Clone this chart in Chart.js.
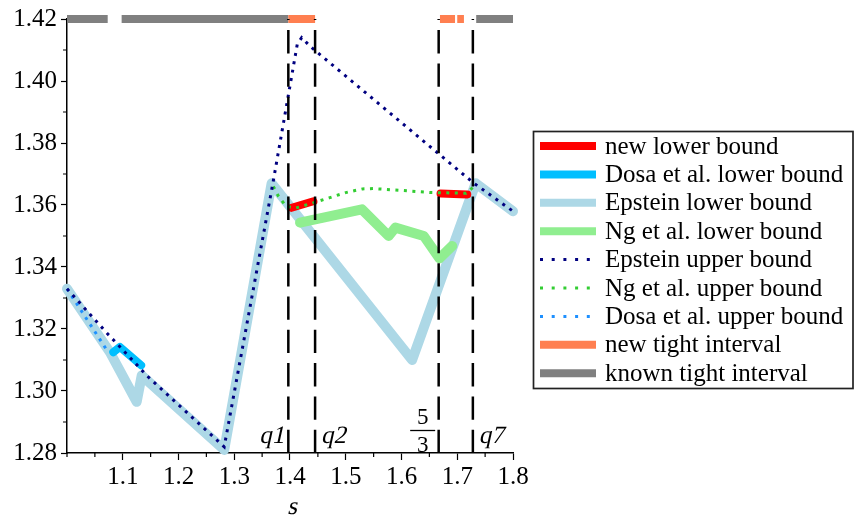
<!DOCTYPE html>
<html>
<head>
<meta charset="utf-8">
<script src="https://cdn.jsdelivr.net/npm/chart.js@4.4.1/dist/chart.umd.min.js"></script>
<style>
  html, body { margin: 0; padding: 0; background: #fff; }
  #wrap { position: relative; width: 856px; height: 518px; }
  #chart { position: absolute; left: 0; top: 0; }
</style>
</head>
<body>
<div id="wrap">
  <canvas id="chart" width="856" height="518"></canvas>
</div>
<script>
// Axis ticks
const xTicks = [1.1, 1.2, 1.3, 1.4, 1.5, 1.6, 1.7, 1.8];
const xMinorTicks = [1.0, 1.05, 1.15, 1.25, 1.35, 1.45, 1.55, 1.65, 1.75];
const yTicks = [1.28, 1.30, 1.32, 1.34, 1.36, 1.38, 1.40, 1.42];
const yMinorTicks = [1.29, 1.31, 1.33, 1.35, 1.37, 1.39, 1.41];
const xTitle = 's';

// Lower bounds (null = break in the line)
const newLowerX = [1.403, 1.442, 1.55, 1.670, 1.718];
const newLowerY = [1.3591, 1.3612, null, 1.3637, 1.3634];
const dosaLowerX = [1.083, 1.095, 1.133];
const dosaLowerY = [1.3125, 1.3142, 1.3083];
const epsteinLowerX = [1.0, 1.077, 1.125, 1.134, 1.282, 1.367, 1.619, 1.733, 1.8];
const epsteinLowerY = [1.333, 1.3125, 1.2965, 1.305, 1.281, 1.367, 1.31, 1.367, 1.358];
const ngLowerX = [1.418, 1.529, 1.577, 1.589, 1.640, 1.668, 1.691];
const ngLowerY = [1.3543, 1.3586, 1.350, 1.3527, 1.350, 1.3428, 1.3468];

// Upper bounds
const epsteinUpperX = [1.0, 1.07, 1.10, 1.143, 1.282, 1.370, 1.413, 1.421, 1.436, 1.730, 1.8];
const epsteinUpperY = [1.333, 1.319, 1.3133, 1.305, 1.282, 1.3677, 1.4118, 1.414, 1.4112, 1.367, 1.358];
const ngUpperX = [1.370, 1.379, 1.393, 1.41, 1.44, 1.47, 1.50, 1.53, 1.55, 1.60, 1.655, 1.716, 1.730];
const ngUpperY = [1.366, 1.3629, 1.3596, 1.359, 1.3606, 1.3623, 1.364, 1.3652, 1.3653, 1.3647, 1.364, 1.3638, 1.366];
const dosaUpperX = [1.0, 1.074];
const dosaUpperY = [1.333, 1.3125];

// Tight intervals (drawn at the top, y = 1.42)
const newTightStart = [1.397, 1.669, 1.700];
const newTightEnd = [1.445, 1.696, 1.712];
const knownTightStart = [1.0, 1.098, 1.734];
const knownTightEnd = [1.073, 1.397, 1.8];
const tightLevel = 1.42;

// Special s values (vertical dashed lines)
const specialX = [1.397, 1.445, 5 / 3, 1.728];
const specialLabels = ['q1', 'q2', '5/3', 'q7'];

const serif = '"Liberation Serif"';
Chart.defaults.font.family = serif;

function toPoints(xs, ys) {
    return xs.map((x, i) => ({ x: x, y: ys[i] }));
}

function intervalPoints(starts, ends) {
    const pts = [];
    starts.forEach((s, i) => {
        if (i > 0) pts.push({ x: (ends[i - 1] + s) / 2, y: null });
        pts.push({ x: s, y: tightLevel });
        pts.push({ x: ends[i], y: tightLevel });
    });
    return pts;
}

function solid(label, data, color, width, order) {
    return {
        label: label, data: data, borderColor: color, borderWidth: width,
        borderCapStyle: 'round', borderJoinStyle: 'round',
        pointRadius: 0, spanGaps: false, clip: false, order: order
    };
}

function dotted(label, data, color, order) {
    return {
        label: label, data: data, borderColor: color, borderWidth: 3,
        borderDash: [3, 5.5], borderCapStyle: 'butt',
        pointRadius: 0, clip: false, order: order
    };
}

function band(label, data, color, order) {
    return {
        label: label, data: data, borderColor: color, borderWidth: 8,
        borderCapStyle: 'butt', pointRadius: 0, spanGaps: false, clip: false, order: order
    };
}

const datasets = [
    solid('new lower bound', toPoints(newLowerX, newLowerY), '#ff0000', 8, 5),
    solid('Dosa et al. lower bound', toPoints(dosaLowerX, dosaLowerY), '#00bfff', 8, 6),
    solid('Epstein lower bound', toPoints(epsteinLowerX, epsteinLowerY), '#add8e6', 10, 8),
    solid('Ng et al. lower bound', toPoints(ngLowerX, ngLowerY), '#90ee90', 10, 7),
    dotted('Epstein upper bound', toPoints(epsteinUpperX, epsteinUpperY), '#000080', 2),
    dotted('Ng et al. upper bound', toPoints(ngUpperX, ngUpperY), '#32cd32', 3),
    dotted('Dosa et al. upper bound', toPoints(dosaUpperX, dosaUpperY), '#1e90ff', 4),
    band('new tight interval', intervalPoints(newTightStart, newTightEnd), '#ff7f50', 9),
    band('known tight interval', intervalPoints(knownTightStart, knownTightEnd), '#808080', 10)
];

// vertical dashed lines, no legend entry
specialX.forEach(x => {
    datasets.push({
        data: [{ x: x, y: 1.28 }, { x: x, y: 1.42 }],
        borderColor: '#000', borderWidth: 2.5, borderDash: [23.3, 10],
        pointRadius: 0, clip: false, order: 1
    });
});

// slanted text from the upright face (no italic font lookup)
function slantText(ctx, text, x, y) {
    ctx.save();
    ctx.translate(x, y);
    ctx.transform(1, 0, -0.22, 1, 0, 0);
    ctx.fillText(text, 0, 0);
    ctx.restore();
}

// minor ticks on both axes
const minorTicks = {
    id: 'minorTicks',
    afterDraw(chart) {
        const ctx = chart.ctx, xs = chart.scales.x, ys = chart.scales.y;
        const a = chart.chartArea;
        ctx.save();
        ctx.strokeStyle = '#000';
        ctx.lineWidth = 1.2;
        ctx.beginPath();
        xMinorTicks.forEach(v => {
            const px = xs.getPixelForValue(v);
            ctx.moveTo(px, a.bottom);
            ctx.lineTo(px, a.bottom + 4);
        });
        yMinorTicks.forEach(v => {
            const py = ys.getPixelForValue(v);
            ctx.moveTo(a.left, py);
            ctx.lineTo(a.left - 4, py);
        });
        ctx.stroke();
        ctx.restore();
    }
};

// labels next to the dashed lines and the x title
const specialText = {
    id: 'specialText',
    afterDraw(chart) {
        const ctx = chart.ctx, xs = chart.scales.x;
        const a = chart.chartArea;
        ctx.save();
        ctx.fillStyle = '#000';
        ctx.strokeStyle = '#000';
        ctx.textBaseline = 'alphabetic';
        specialLabels.forEach((t, i) => {
            const px = xs.getPixelForValue(specialX[i]);
            const leftSide = (i % 2 === 0);
            if (t.indexOf('/') > 0) {
                const parts = t.split('/');
                ctx.font = '23px ' + serif;
                ctx.textAlign = 'center';
                const cx = px - 16;
                ctx.fillText(parts[0], cx, 424);
                ctx.fillText(parts[1], cx, 452);
                ctx.lineWidth = 1.3;
                ctx.beginPath();
                ctx.moveTo(cx - 12.5, 430.5);
                ctx.lineTo(cx + 12.5, 430.5);
                ctx.stroke();
            } else {
                ctx.font = '25px ' + serif;
                ctx.textAlign = leftSide ? 'right' : 'left';
                slantText(ctx, t, leftSide ? px - 4 : px + 6, 443);
            }
        });
        ctx.font = '25px ' + serif;
        ctx.textAlign = 'center';
        slantText(ctx, xTitle, (a.left + a.right) / 2 + 2, 514);
        ctx.restore();
    }
};

// boxed legend on the right
const boxLegend = {
    id: 'boxLegend',
    afterDraw(chart) {
        const ctx = chart.ctx;
        ctx.save();
        ctx.strokeStyle = '#222';
        ctx.lineWidth = 1.7;
        ctx.strokeRect(533.5, 131.5, 319.5, 257);
        ctx.font = '25px ' + serif;
        ctx.textBaseline = 'middle';
        ctx.textAlign = 'left';
        chart.data.datasets.filter(d => d.label).forEach((d, i) => {
            const y = 146 + i * 28.4;
            ctx.beginPath();
            ctx.strokeStyle = d.borderColor;
            if (d.borderDash) {
                ctx.setLineDash([3, 8.7]);
                ctx.lineWidth = 3;
                ctx.lineCap = 'butt';
                ctx.moveTo(540, y);
                ctx.lineTo(592, y);
            } else {
                ctx.setLineDash([]);
                ctx.lineWidth = 8;
                ctx.lineCap = 'butt';
                ctx.moveTo(540, y);
                ctx.lineTo(596, y);
            }
            ctx.stroke();
            ctx.fillStyle = '#000';
            ctx.fillText(d.label, 605, y + 1);
        });
        ctx.restore();
    }
};

new Chart(document.getElementById('chart'), {
    type: 'line',
    data: { datasets: datasets },
    options: {
        responsive: false,
        animation: false,
        layout: { padding: { top: 17, right: 343, left: 0, bottom: 0 } },
        plugins: { legend: { display: false }, tooltip: { enabled: false } },
        scales: {
            x: {
                type: 'linear', min: 1.0, max: 1.8,
                afterBuildTicks: s => { s.ticks = xTicks.map(v => ({ value: v })); },
                afterFit: s => { s.height = 65; },
                ticks: {
                    autoSkip: false, maxRotation: 0, color: '#000', padding: 2,
                    font: { family: serif, size: 25 },
                    callback: v => v.toFixed(1)
                },
                grid: { drawOnChartArea: false, tickLength: 7, tickColor: '#000', tickWidth: 1.2 },
                border: { color: '#000', width: 1.5 }
            },
            y: {
                type: 'linear', min: 1.28, max: 1.42,
                afterBuildTicks: s => { s.ticks = yTicks.map(v => ({ value: v })); },
                afterFit: s => { s.width = 67; },
                ticks: {
                    autoSkip: false, color: '#000', padding: 4,
                    font: { family: serif, size: 25 },
                    callback: v => v.toFixed(2)
                },
                grid: { drawOnChartArea: false, tickLength: 6, tickColor: '#000', tickWidth: 1.2 },
                border: { color: '#000', width: 1.5 }
            }
        }
    },
    plugins: [minorTicks, specialText, boxLegend]
});
</script>
</body>
</html>
